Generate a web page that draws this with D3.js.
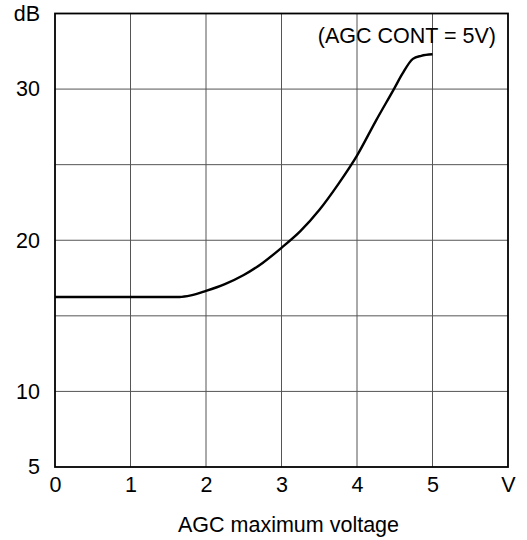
<!DOCTYPE html>
<html>
<head>
<meta charset="utf-8">
<script src="https://cdn.jsdelivr.net/npm/d3@7"></script>
<style>
  html, body { margin: 0; padding: 0; background: #fff; }
  svg text { font-family: "Liberation Sans", Arial, sans-serif; fill: #000; }
</style>
</head>
<body>
<svg id="chart" width="527" height="540"></svg>
<script>
// Data
const voltage = [0, 1.0, 1.65, 1.8, 2.0, 2.25, 2.5, 2.75, 3.0, 3.25, 3.5, 3.75, 4.0, 4.25, 4.5, 4.6, 4.74, 4.85, 5.0];
const gainDb  = [16.25, 16.25, 16.25, 16.35, 16.65, 17.1, 17.7, 18.5, 19.5, 20.6, 22.0, 23.7, 25.6, 27.9, 30.1, 31.0, 32.0, 32.2, 32.3];
const xTicks = [0, 1, 2, 3, 4, 5, 6];
const xTickLabels = ["0", "1", "2", "3", "4", "5", "V"];
const yTicks = [5, 10, 15, 20, 25, 30, 35];
const yTickLabels = {5: "5", 10: "10", 20: "20", 30: "30", 35: "dB"};
const xTitle = "AGC maximum voltage";
const note = "(AGC CONT = 5V)";

const svg = d3.select("#chart");
const m = {left: 55, right: 19, top: 13.5, bottom: 73};
const W = 527, H = 540;
const FS = 21.5;
const x = d3.scaleLinear().domain([0, 6]).range([m.left, W - m.right]);
const y = d3.scaleLinear().domain([5, 35]).range([H - m.bottom, m.top]);

// grid
const g = svg.append("g");
g.selectAll("line.vx").data(xTicks.filter(d => d > 0 && d < 6)).join("line")
  .attr("x1", d => x(d)).attr("x2", d => x(d))
  .attr("y1", y(5)).attr("y2", y(35))
  .attr("stroke", "#555").attr("stroke-width", 1);
g.selectAll("line.hy").data(yTicks.filter(d => d > 5 && d < 35)).join("line")
  .attr("x1", x(0)).attr("x2", x(6))
  .attr("y1", d => y(d)).attr("y2", d => y(d))
  .attr("stroke", "#555").attr("stroke-width", 1);

// frame
svg.append("rect")
  .attr("x", x(0)).attr("y", y(35))
  .attr("width", x(6) - x(0)).attr("height", y(5) - y(35))
  .attr("fill", "none").attr("stroke", "#000").attr("stroke-width", 1.8);

// axes labels (via d3 axes, no tick lines)
const xAxis = d3.axisBottom(x).tickValues(xTicks)
  .tickFormat((d, i) => xTickLabels[i]).tickSize(0).tickPadding(10);
const xg = svg.append("g").attr("transform", `translate(0,${y(5)})`).call(xAxis);
xg.select(".domain").remove();
xg.selectAll("text").attr("font-size", FS).attr("font-family", "Liberation Sans, Arial, sans-serif");

const yAxis = d3.axisLeft(y).tickValues(Object.keys(yTickLabels).map(Number))
  .tickFormat(d => yTickLabels[d]).tickSize(0).tickPadding(15);
const yg = svg.append("g").attr("transform", `translate(${x(0)},0)`).call(yAxis);
yg.select(".domain").remove();
yg.selectAll("text").attr("font-size", FS).attr("font-family", "Liberation Sans, Arial, sans-serif");

// curve
const pts = voltage.map((v, i) => [v, gainDb[i]]);
svg.append("path")
  .datum(pts)
  .attr("fill", "none").attr("stroke", "#000").attr("stroke-width", 2.4)
  .attr("d", d3.line().x(d => x(d[0])).y(d => y(d[1])).curve(d3.curveMonotoneX));

// note
svg.append("text").attr("x", 496).attr("y", 42.5).attr("text-anchor", "end")
  .attr("font-size", FS).text(note);

// x title
svg.append("text").attr("x", 288.5).attr("y", 531.5).attr("text-anchor", "middle")
  .attr("font-size", FS).text(xTitle);
</script>
</body>
</html>
